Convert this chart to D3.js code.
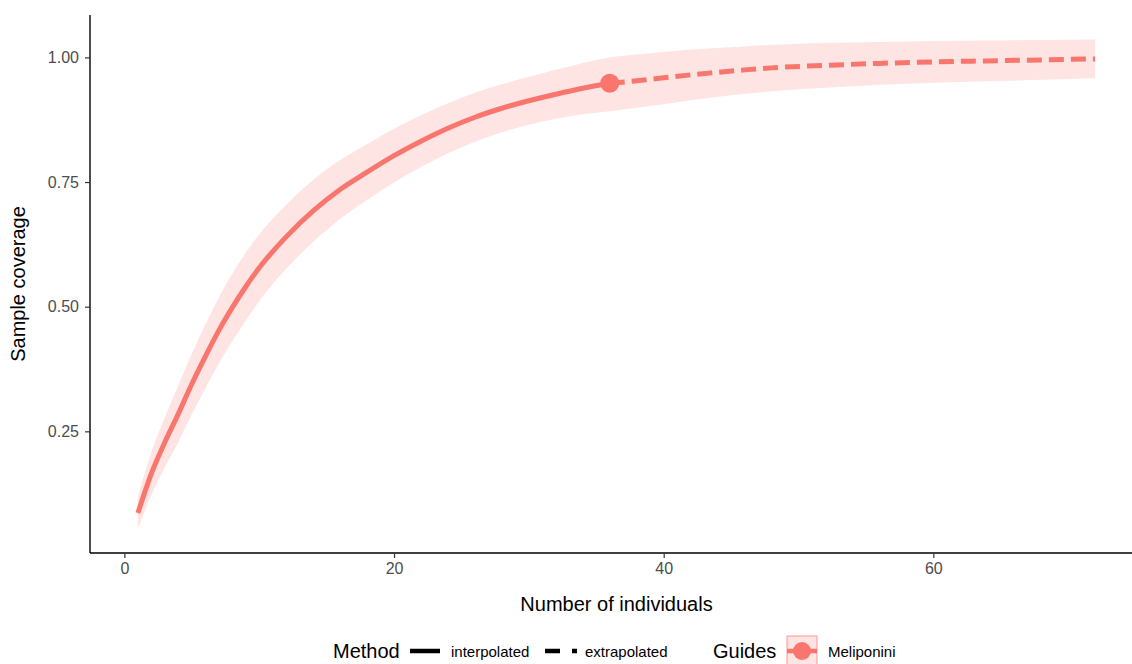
<!DOCTYPE html>
<html>
<head>
<meta charset="utf-8">
<script src="https://cdn.jsdelivr.net/npm/d3@7"></script>
<style>
  body { margin: 0; background: #fff; }
  svg { display: block; font-family: "Liberation Sans", Arial, sans-serif; }
</style>
</head>
<body>
<svg width="1132" height="664"></svg>
<script>
// interpolated part (rarefaction), up to the observed sample size
var interpX = [1, 2, 3, 4, 5, 6, 7, 8, 9, 10, 12, 14, 16, 18, 20, 22, 24, 26, 28, 30, 32, 34, 36];
var interpSC = [0.086, 0.165, 0.228, 0.285, 0.345, 0.400, 0.452, 0.498, 0.540, 0.578, 0.640, 0.692, 0.735, 0.770, 0.803, 0.832, 0.858, 0.880, 0.898, 0.913, 0.926, 0.938, 0.948];
var interpLo = [0.055, 0.122, 0.178, 0.228, 0.284, 0.336, 0.386, 0.430, 0.472, 0.511, 0.576, 0.630, 0.676, 0.714, 0.749, 0.780, 0.808, 0.831, 0.850, 0.865, 0.877, 0.886, 0.892];
var interpHi = [0.118, 0.208, 0.278, 0.342, 0.406, 0.464, 0.518, 0.566, 0.608, 0.645, 0.704, 0.754, 0.794, 0.826, 0.857, 0.884, 0.908, 0.929, 0.946, 0.961, 0.975, 0.989, 1.000];

// extrapolated part
var extrapX = [36, 38, 40, 42, 44, 46, 48, 52, 56, 60, 64, 68, 72];
var extrapSC = [0.948, 0.953, 0.959, 0.965, 0.970, 0.975, 0.979, 0.984, 0.988, 0.991, 0.993, 0.995, 0.997];
var extrapLo = [0.892, 0.899, 0.906, 0.914, 0.921, 0.927, 0.932, 0.939, 0.945, 0.949, 0.952, 0.955, 0.958];
var extrapHi = [1.000, 1.006, 1.011, 1.016, 1.019, 1.022, 1.025, 1.029, 1.031, 1.033, 1.034, 1.035, 1.036];

// observed point
var obsX = [36];
var obsSC = [0.948];

var xTicks = [0, 20, 40, 60];
var yTicks = [0.25, 0.50, 0.75, 1.00];

var methodLabels = ["interpolated", "extrapolated"];
var guideLabels = ["Meliponini"];

var col = "#F8766D";

var svg = d3.select("svg");

// build rows from the arrays
var interp = interpX.map(function (x, i) { return { x: x, y: interpSC[i], lo: interpLo[i], hi: interpHi[i] }; });
var extrap = extrapX.map(function (x, i) { return { x: x, y: extrapSC[i], lo: extrapLo[i], hi: extrapHi[i] }; });
var all = interp.concat(extrap.slice(1));

// ggplot-like 5% expansion
function expand(ext) {
    var r = ext[1] - ext[0];
    return [ext[0] - 0.05 * r, ext[1] + 0.05 * r];
}
var xDom = expand(d3.extent(all, function (d) { return d.x; }));
var yDom = expand([d3.min(all, function (d) { return d.lo; }), d3.max(all, function (d) { return d.hi; })]);

var pLeft = 90, pTop = 15, pBottom = 553, pRight = 1143;

var xScale = d3.scaleLinear().domain(xDom).range([pLeft, pRight]);
var yScale = d3.scaleLinear().domain(yDom).range([pBottom, pTop]);

// ribbon
var area = d3.area()
    .x(function (d) { return xScale(d.x); })
    .y0(function (d) { return yScale(d.lo); })
    .y1(function (d) { return yScale(d.hi); })
    .curve(d3.curveMonotoneX);

svg.append("path")
    .datum(all)
    .attr("d", area)
    .attr("fill", col)
    .attr("fill-opacity", 0.2);

var line = d3.line()
    .x(function (d) { return xScale(d.x); })
    .y(function (d) { return yScale(d.y); })
    .curve(d3.curveMonotoneX);

svg.append("path")
    .datum(interp)
    .attr("d", line)
    .attr("fill", "none")
    .attr("stroke", col)
    .attr("stroke-width", 5);

svg.append("path")
    .datum(extrap)
    .attr("d", line)
    .attr("fill", "none")
    .attr("stroke", col)
    .attr("stroke-width", 5)
    .attr("stroke-dasharray", "15,7");

svg.selectAll(".obs")
    .data(obsX)
    .enter()
    .append("circle")
    .attr("class", "obs")
    .attr("cx", function (d) { return xScale(d); })
    .attr("cy", function (d, i) { return yScale(obsSC[i]); })
    .attr("r", 9.5)
    .attr("fill", col);

// axes
var xAxis = svg.append("g")
    .attr("transform", "translate(0," + pBottom + ")")
    .call(d3.axisBottom(xScale).tickValues(xTicks).tickSize(5).tickPadding(5).tickSizeOuter(0));
var yAxis = svg.append("g")
    .attr("transform", "translate(" + pLeft + ",0)")
    .call(d3.axisLeft(yScale).tickValues(yTicks).tickFormat(d3.format(".2f")).tickSize(5).tickPadding(6).tickSizeOuter(0));

[xAxis, yAxis].forEach(function (g) {
    g.select(".domain").attr("stroke", "#000").attr("stroke-width", 1.4);
    g.selectAll(".tick line").attr("stroke", "#333").attr("stroke-width", 1.2);
    g.selectAll(".tick text")
        .attr("fill", "#4D4D4D")
        .style("font-size", "16px")
        .style("font-family", "'Liberation Sans', Arial, sans-serif");
});
// axis lines span the whole panel
xAxis.select(".domain").attr("d", "M" + pLeft + ",0H" + pRight);
yAxis.select(".domain").attr("d", "M0," + pTop + "V" + pBottom);

// axis titles
svg.append("text")
    .attr("x", (pLeft + pRight) / 2)
    .attr("y", 611)
    .attr("text-anchor", "middle")
    .style("font-size", "20px")
    .text("Number of individuals");

svg.append("text")
    .attr("transform", "translate(25," + (pTop + pBottom) / 2 + ") rotate(-90)")
    .attr("text-anchor", "middle")
    .style("font-size", "20px")
    .text("Sample coverage");

// legend
var ly = 651;
var leg = svg.append("g");

leg.append("text").attr("x", 333).attr("y", ly + 7).style("font-size", "20px").text("Method");

leg.append("line")
    .attr("x1", 410).attr("x2", 440).attr("y1", ly).attr("y2", ly)
    .attr("stroke", "#000").attr("stroke-width", 4.5);
leg.append("text").attr("x", 451).attr("y", ly + 6).style("font-size", "15px").text(methodLabels[0]);

leg.append("line")
    .attr("x1", 545).attr("x2", 577).attr("y1", ly).attr("y2", ly)
    .attr("stroke", "#000").attr("stroke-width", 4.5)
    .attr("stroke-dasharray", "15,12");
leg.append("text").attr("x", 585).attr("y", ly + 6).style("font-size", "15px").text(methodLabels[1]);

leg.append("text").attr("x", 713).attr("y", ly + 7).style("font-size", "20px").text("Guides");

leg.append("rect")
    .attr("x", 787).attr("y", ly - 15).attr("width", 30).attr("height", 30)
    .attr("fill", col).attr("fill-opacity", 0.2)
    .attr("stroke", col).attr("stroke-opacity", 0.6).attr("stroke-width", 1.2);
leg.append("line")
    .attr("x1", 787).attr("x2", 817).attr("y1", ly).attr("y2", ly)
    .attr("stroke", col).attr("stroke-width", 4.5);
leg.append("circle").attr("cx", 802).attr("cy", ly).attr("r", 9).attr("fill", col);
leg.append("text").attr("x", 828).attr("y", ly + 6).style("font-size", "15px").text(guideLabels[0]);
</script>
</body>
</html>
